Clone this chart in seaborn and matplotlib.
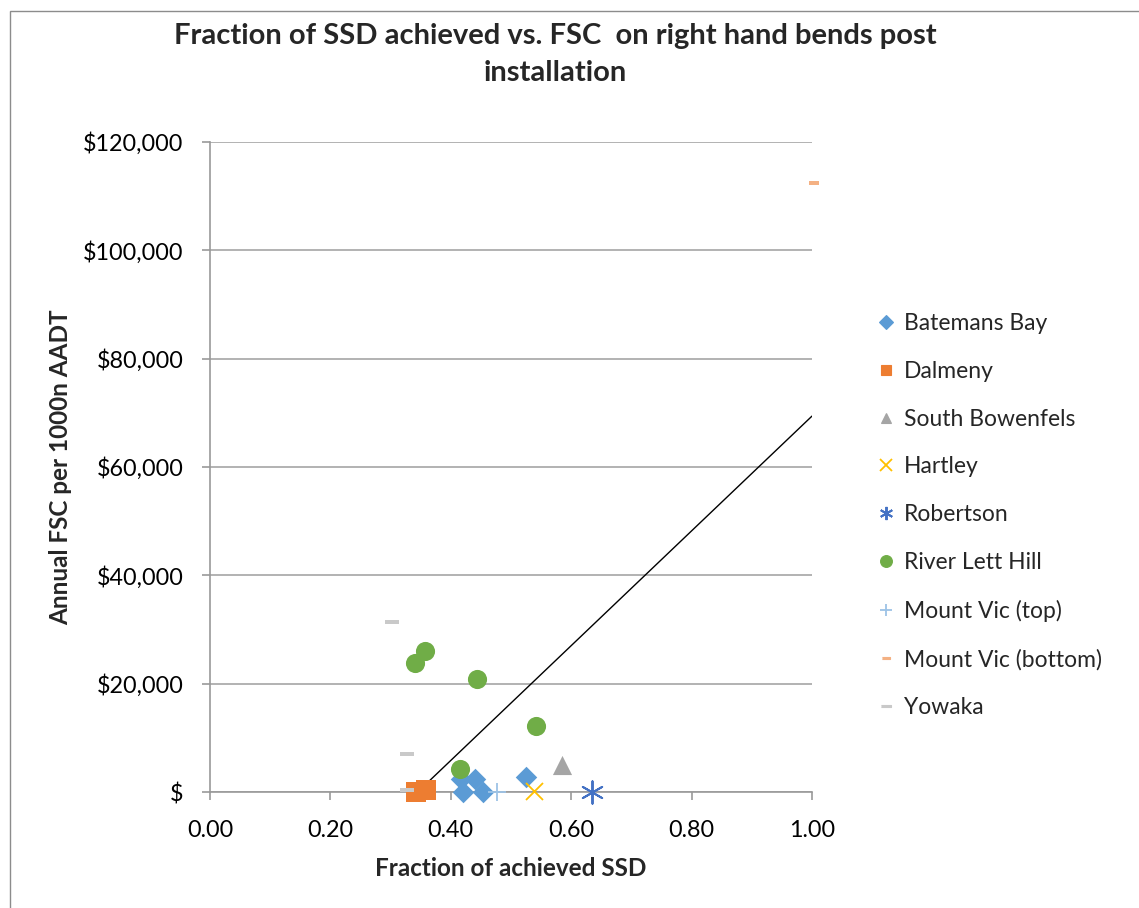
import matplotlib
matplotlib.use("Agg")
import matplotlib.pyplot as plt
from matplotlib.patches import Rectangle
import seaborn as sns

# Site data: fraction of achieved SSD (x) vs annual FSC per 1000n AADT (y)
batemans_x = [0.417, 0.441, 0.420, 0.453, 0.525]
batemans_y = [2400, 2400, 0, 0, 2800]
dalmeny_x = [0.343, 0.358]
dalmeny_y = [0, 300]
bowenfels_x = [0.584]
bowenfels_y = [5000]
hartley_x = [0.539]
hartley_y = [250]
robertson_x = [0.635]
robertson_y = [0]
river_lett_x = [0.357, 0.340, 0.443, 0.542, 0.415]
river_lett_y = [26100, 23750, 20800, 12250, 4250]
mtvic_top_x = [0.477]
mtvic_top_y = [0]
mtvic_bottom_x = [1.004]
mtvic_bottom_y = [112400]
yowaka_x = [0.303, 0.328, 0.328]
yowaka_y = [31300, 7000, 400]

# Trend line end points
trend_x = [0.345, 1.0]
trend_y = [0, 69400]

x_ticks = [0.0, 0.2, 0.4, 0.6, 0.8, 1.0]
x_tick_labels = ["0.00", "0.20", "0.40", "0.60", "0.80", "1.00"]
y_ticks = [0, 20000, 40000, 60000, 80000, 100000, 120000]
y_tick_labels = ["$", "$20,000", "$40,000", "$60,000", "$80,000", "$100,000", "$120,000"]

sns.set_style("white")
plt.rcParams["font.family"] = ["Lato", "DejaVu Sans"]

W, H = 1139, 908
fig = plt.figure(figsize=(W / 100, H / 100), dpi=100)
ax = fig.add_axes([210 / W, 1 - 792 / H, (812 - 210) / W, (792 - 142) / H])

dash = [(-1, -0.28), (1, -0.28), (1, 0.28), (-1, 0.28)]

series = [
    ("Batemans Bay", batemans_x, batemans_y, "D", "#5B9BD5", 120, 0, 7.5),
    ("Dalmeny", dalmeny_x, dalmeny_y, "s", "#ED7D31", 210, 0, 7.5),
    ("South Bowenfels", bowenfels_x, bowenfels_y, "^", "#A5A5A5", 190, 0, 7.5),
    ("Hartley", hartley_x, hartley_y, "x", "#FFC000", 150, 1.3, 8.5),
    ("Robertson", robertson_x, robertson_y, (6, 2, 0), "#4472C4", 260, 1.4, 9.5),
    ("River Lett Hill", river_lett_x, river_lett_y, "o", "#70AD47", 190, 0, 8.5),
    ("Mount Vic (top)", mtvic_top_x, mtvic_top_y, "+", "#9DC3E6", 170, 1.3, 8.5),
    ("Mount Vic (bottom)", mtvic_bottom_x, mtvic_bottom_y, dash, "#F4B183", 60, 0, 5.5),
    ("Yowaka", yowaka_x, yowaka_y, dash, "#C9C9C9", 110, 0, 7.5),
]

handles = []
for label, xs, ys, mk, col, size, lw, leg_ms in series:
    sns.scatterplot(x=xs, y=ys, marker=mk, color=col, s=size, linewidth=lw,
                    edgecolor=col if lw == 0 else None, ax=ax, clip_on=False,
                    zorder=3)
    h, = ax.plot([], [], linestyle="none", marker=mk, color=col,
                 markersize=leg_ms, markeredgewidth=max(lw, 0.8))
    handles.append((h, label))

sns.lineplot(x=trend_x, y=trend_y, color="black", linewidth=1.0, ax=ax, zorder=2)

ax.set_xlim(0, 1.0)
ax.set_ylim(0, 120000)
ax.set_xticks(x_ticks)
ax.set_xticklabels(x_tick_labels)
ax.set_yticks(y_ticks)
ax.set_yticklabels(y_tick_labels)

grid_col = "#A6A6A6"
ax.yaxis.grid(True, color=grid_col, linewidth=1.2)
ax.xaxis.grid(False)
ax.set_axisbelow(True)
for side in ["top", "right"]:
    ax.spines[side].set_visible(False)
for side in ["left", "bottom"]:
    ax.spines[side].set_color("#999999")
    ax.spines[side].set_linewidth(1.2)

ax.tick_params(axis="both", which="major", labelsize=16.8, colors="#999999",
               labelcolor="black", length=6, width=1.2, direction="out")
ax.tick_params(axis="x", pad=14, bottom=True)
ax.tick_params(axis="y", pad=13, left=True)

ax.set_xlabel("Fraction of achieved SSD", fontsize=17.5, fontweight="bold", labelpad=12)
ax.set_ylabel("Annual FSC per 1000n AADT", fontsize=17.5, fontweight="bold", labelpad=8)

fig.text(555 / W, 1 - 36 / H, "Fraction of SSD achieved vs. FSC  on right hand bends post",
         ha="center", va="center", fontsize=21, fontweight="bold")
fig.text(555 / W, 1 - 73 / H, "installation",
         ha="center", va="center", fontsize=21, fontweight="bold")

fig.legend([h for h, _ in handles], [l for _, l in handles],
           loc="upper left", bbox_to_anchor=(876 / W, 1 - 313 / H),
           frameon=False, fontsize=16.5, handlelength=0.9, handletextpad=0.3,
           labelspacing=1.17, borderpad=0, borderaxespad=0)

# Chart area border
fig.patches.append(Rectangle((9.5 / W, -0.02), 1.2, 1 - 10.7 / H + 0.02,
                             transform=fig.transFigure, fill=False,
                             edgecolor="#8C8C8C", linewidth=1.0))

fig.savefig("out.png", dpi=100)
